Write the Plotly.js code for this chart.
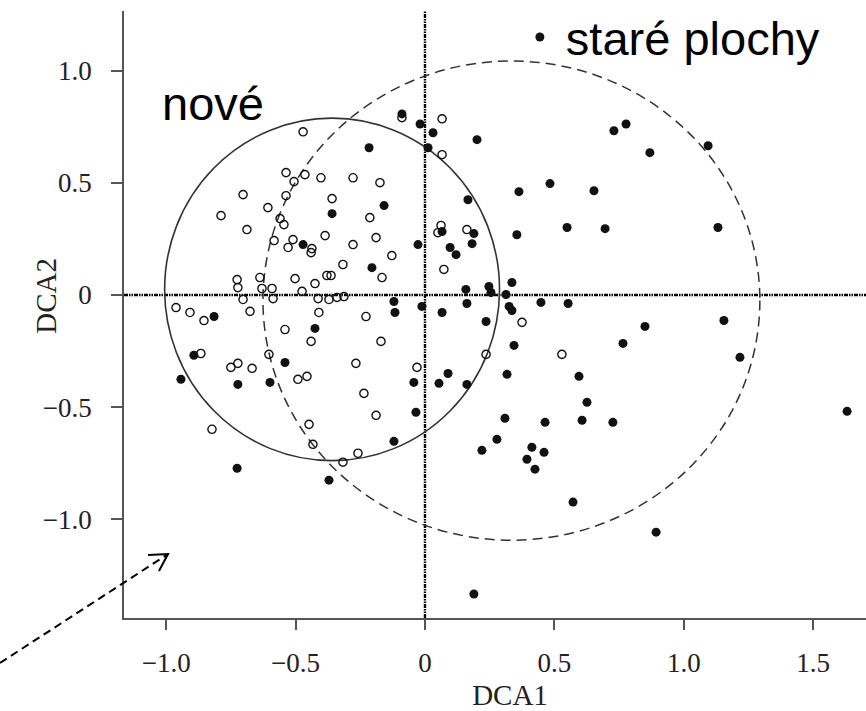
<!DOCTYPE html>
<html>
<head>
<meta charset="utf-8">
<script src="https://cdn.plot.ly/plotly-3.0.1.min.js"></script>
<style>html,body{margin:0;padding:0;overflow:hidden;background:#fff}#chart{width:896px;height:711px}</style>
</head>
<body>
<div id="chart"></div>
<script>
// nové plochy (open circles)
const noveX = [-0.471,-0.089,0.066,0.066,-0.537,-0.464,-0.506,-0.402,-0.278,-0.174,-0.703,-0.537,-0.607,-0.359,-0.788,-0.560,-0.545,-0.213,-0.688,-0.583,-0.510,-0.529,-0.437,-0.440,-0.386,-0.278,-0.189,-0.128,-0.317,-0.166,-0.726,-0.723,-0.638,-0.630,-0.591,-0.502,-0.425,-0.379,-0.363,-0.475,-0.703,-0.587,-0.413,-0.371,-0.340,-0.313,-0.962,-0.908,-0.854,-0.676,-0.410,-0.228,-0.541,-0.440,-0.170,-0.866,-0.603,-0.750,-0.723,-0.668,-0.267,-0.031,-0.491,-0.456,-0.236,-0.189,-0.823,-0.448,-0.433,-0.259,-0.317,0.062,0.050,0.162,0.073,0.375,0.236,0.529];
const noveY = [0.728,0.791,0.786,0.626,0.546,0.537,0.506,0.523,0.523,0.501,0.448,0.443,0.390,0.430,0.354,0.341,0.314,0.345,0.292,0.243,0.247,0.212,0.207,0.189,0.265,0.225,0.256,0.176,0.136,0.078,0.069,0.033,0.078,0.029,0.029,0.073,0.051,0.087,0.087,0.016,-0.020,-0.016,-0.016,-0.020,-0.011,-0.007,-0.056,-0.078,-0.114,-0.073,-0.078,-0.096,-0.154,-0.207,-0.207,-0.261,-0.265,-0.323,-0.305,-0.327,-0.305,-0.323,-0.376,-0.363,-0.439,-0.537,-0.599,-0.577,-0.666,-0.706,-0.746,0.310,0.278,0.292,0.114,-0.122,-0.265,-0.265];

// staré plochy (filled dots)
const stareX = [-0.089,-0.019,0.031,0.012,0.201,-0.216,-0.158,-0.359,-0.471,-0.027,-0.205,-0.120,-0.116,-0.815,-0.425,-0.893,-0.541,-0.943,-0.723,-0.599,-0.043,-0.035,-0.120,-0.371,-0.726,0.166,0.363,0.483,0.549,0.355,0.189,0.066,0.730,0.777,0.869,1.094,0.653,0.696,1.132,0.097,0.120,0.182,0.158,0.247,0.255,0.336,0.313,-0.012,0.066,0.162,0.325,0.336,0.448,0.553,0.236,0.344,0.850,1.155,0.765,1.217,0.089,0.054,0.162,0.317,0.595,0.626,0.309,0.464,0.607,0.726,0.278,0.220,0.413,0.460,0.394,0.425,0.572,0.893,0.189,1.631];
const stareY = [0.808,0.763,0.724,0.657,0.693,0.657,0.399,0.363,0.225,0.225,0.122,-0.029,-0.078,-0.096,-0.149,-0.269,-0.301,-0.376,-0.399,-0.390,-0.390,-0.523,-0.653,-0.826,-0.773,0.425,0.461,0.497,0.301,0.269,0.274,0.283,0.733,0.763,0.635,0.666,0.465,0.296,0.301,0.212,0.180,0.229,0.025,0.038,0.011,0.056,0.002,-0.051,-0.078,-0.038,-0.051,-0.069,-0.033,-0.038,-0.118,-0.225,-0.140,-0.114,-0.216,-0.278,-0.350,-0.394,-0.399,-0.354,-0.363,-0.479,-0.550,-0.568,-0.559,-0.568,-0.644,-0.693,-0.679,-0.702,-0.733,-0.777,-0.924,-1.058,-1.334,-0.519];

// group envelopes (centre and half-axes, data units)
const noveEllipse = {cx: -0.359, cy: 0.025, rx: 0.647, ry: 0.764};
const stareEllipse = {cx: 0.334, cy: -0.025, rx: 0.960, ry: 1.069};

// ticks
const xTickVals = [-1.0,-0.5,0,0.5,1.0,1.5];
const xTickText = ['\u22121.0','\u22120.5','0','0.5','1.0','1.5'];
const yTickVals = [-1.0,-0.5,0,0.5,1.0];
const yTickText = ['\u22121.0','\u22120.5','0','0.5','1.0'];

const serif = '"Liberation Serif","Times New Roman",Times,serif';
const sans = '"Liberation Sans",Arial,Helvetica,sans-serif';

const traces = [
  {x: noveX, y: noveY, type: 'scatter', mode: 'markers', name: 'nové', showlegend: false,
   marker: {symbol: 'circle-open', size: 8.2, color: '#111', line: {width: 1.4, color: '#111'}}},
  {x: stareX, y: stareY, type: 'scatter', mode: 'markers', name: 'staré plochy', showlegend: true,
   marker: {symbol: 'circle', size: 9, color: '#111'}}
];

const dotdash = '4px,1px,1.5px,1px,1.5px,1px';
const shapes = [
  {type: 'line', xref: 'x', yref: 'paper', x0: 0, x1: 0, y0: 0, y1: 1, line: {color: '#000', width: 2.4, dash: dotdash}, layer: 'below'},
  {type: 'line', xref: 'paper', yref: 'y', x0: 0, x1: 1, y0: 0, y1: 0, line: {color: '#000', width: 2.4, dash: dotdash}, layer: 'below'},
  {type: 'circle', xref: 'x', yref: 'y',
   x0: noveEllipse.cx - noveEllipse.rx, x1: noveEllipse.cx + noveEllipse.rx,
   y0: noveEllipse.cy - noveEllipse.ry, y1: noveEllipse.cy + noveEllipse.ry,
   line: {color: '#333', width: 1.6}, layer: 'below'},
  {type: 'circle', xref: 'x', yref: 'y',
   x0: stareEllipse.cx - stareEllipse.rx, x1: stareEllipse.cx + stareEllipse.rx,
   y0: stareEllipse.cy - stareEllipse.ry, y1: stareEllipse.cy + stareEllipse.ry,
   line: {color: '#333', width: 1.5, dash: '10px,6px'}, layer: 'below'},
  // arrow (dashed shaft + open head)
  {type: 'line', xref: 'paper', yref: 'paper', x0: -0.1606, y0: -0.0740, x1: 0.0570, y1: 0.1053,
   line: {color: '#000', width: 2, dash: '8px,5px'}},
  {type: 'path', xref: 'paper', yref: 'paper', path: 'M 0.0311 0.1036 L 0.0570 0.1053 L 0.0453 0.0773',
   line: {color: '#000', width: 2}}
];

const layout = {
  width: 896, height: 711,
  margin: {l: 124, r: 0, t: 10, b: 93, pad: 0},
  paper_bgcolor: '#fff', plot_bgcolor: '#fff',
  showlegend: true,
  legend: {x: 0.505, y: 0.957, xanchor: 'left', yanchor: 'middle', bgcolor: 'rgba(0,0,0,0)',
           font: {family: sans, size: 47, color: '#000'}, itemwidth: 42},
  xaxis: {
    range: [-1.163, 1.820], showgrid: false, zeroline: false,
    showline: true, linecolor: '#555', linewidth: 1.5, mirror: false,
    ticks: 'outside', ticklen: 10, tickwidth: 1.5, tickcolor: '#555',
    tickvals: xTickVals, ticktext: xTickText, ticklabelstandoff: 10,
    tickfont: {family: serif, size: 27, color: '#222'},
    title: {text: 'DCA1', font: {family: serif, size: 29, color: '#222'}, standoff: 10}
  },
  yaxis: {
    range: [-1.441, 1.267], showgrid: false, zeroline: false,
    showline: true, linecolor: '#555', linewidth: 1.5, mirror: false,
    ticks: 'outside', ticklen: 11, tickwidth: 1.5, tickcolor: '#555',
    tickvals: yTickVals, ticktext: yTickText, ticklabelstandoff: 14,
    tickfont: {family: serif, size: 27, color: '#222'}
  },
  shapes: shapes,
  annotations: [
    {text: 'nové', xref: 'paper', yref: 'paper', x: 0.0466, y: 0.80, xanchor: 'left', yanchor: 'bottom',
     showarrow: false, font: {family: sans, size: 47, color: '#000'}},
    {text: 'DCA2', xref: 'paper', yref: 'paper', x: -0.101, y: 0.531, xanchor: 'center', yanchor: 'middle',
     textangle: -90, showarrow: false, font: {family: serif, size: 29, color: '#222'}}
  ]
};

Plotly.newPlot('chart', traces, layout, {displayModeBar: false, responsive: false});
</script>
</body>
</html>
